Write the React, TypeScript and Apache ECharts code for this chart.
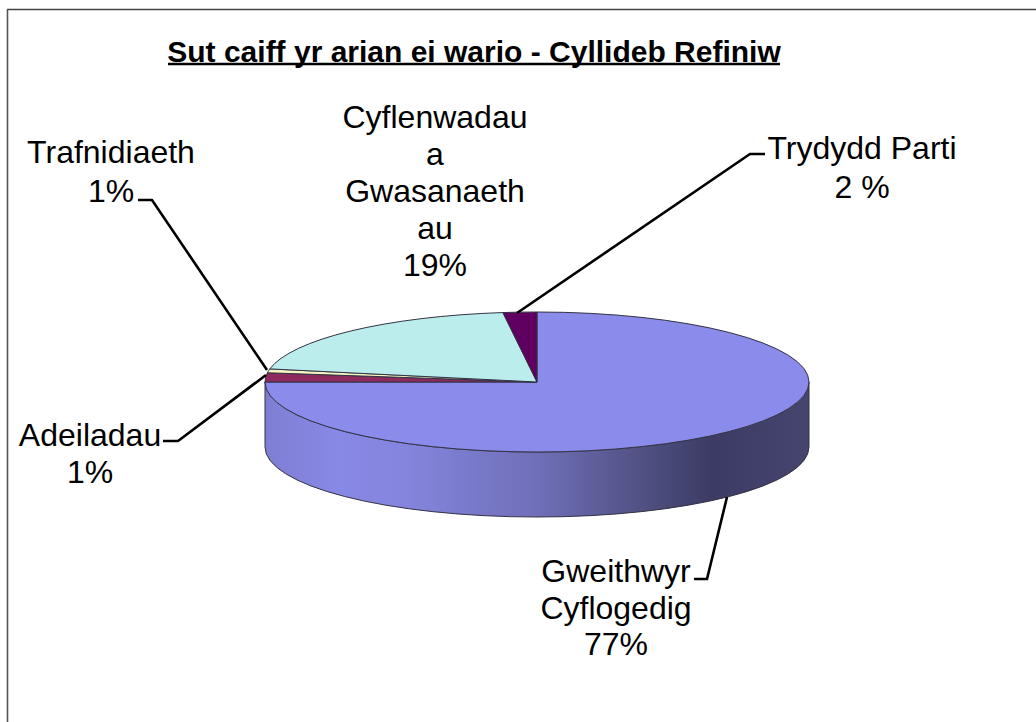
import React, { useEffect, useRef } from "react";
import * as echarts from "echarts";

const chartTitle = "Sut caiff yr arian ei wario - Cyllideb Refiniw";
const sliceNames = ["Gweithwyr Cyflogedig", "Adeiladau", "Trafnidiaeth", "Cyflenwadau a Gwasanaethau", "Trydydd Parti"];
const sliceValues = [75, 2.1, 0.9, 20, 2];
const sliceColors = ["#8B8BEB", "#8E2A5E", "#F5F3C0", "#BAEDEC", "#5F0060"];
const labelTexts = [
  "Gweithwyr\nCyflogedig\n77%",
  "Adeiladau\n1%",
  "Trafnidiaeth\n1%",
  "Cyflenwadau\na\nGwasanaeth\nau\n19%",
  "Trydydd Parti\n2 %",
];

const CX = 537, CY = 382, RX = 272, RY = 70, DEPTH = 65;
const total = sliceValues.reduce((a, b) => a + b, 0);
const pt = (deg: number, dy = 0) => {
  const r = (deg * Math.PI) / 180;
  return [CX + RX * Math.sin(r), CY - RY * Math.cos(r) + dy];
};

function renderSlice(params: any, api: any) {
  const i = params.dataIndex;
  let before = 0;
  for (let k = 0; k < i; k++) before += sliceValues[k];
  const a0 = (before / total) * 360;
  const a1 = a0 + (api.value(0) / total) * 360;
  const children: any[] = [];
  const s0 = Math.max(a0, 90), s1 = Math.min(a1, 270);
  if (s1 > s0) {
    const [x0, y0] = pt(s0), [x1, y1] = pt(s1);
    children.push({
      type: "path",
      shape: {
        pathData: `M${x0} ${y0}A${RX} ${RY} 0 0 1 ${x1} ${y1}L${x1} ${y1 + DEPTH}A${RX} ${RY} 0 0 0 ${x0} ${y0 + DEPTH}Z`,
      },
      style: {
        fill: new echarts.graphic.LinearGradient(0, 0, 1, 0, [
          { offset: 0, color: "#7E7ED2" },
          { offset: 0.13, color: "#8888E6" },
          { offset: 0.25, color: "#8585DE" },
          { offset: 0.5, color: "#6F6FB9" },
          { offset: 0.7, color: "#505081" },
          { offset: 0.82, color: "#3B3B65" },
          { offset: 1, color: "#454570" },
        ]),
        stroke: "#333344",
        lineWidth: 1,
      },
    });
  }
  const [sx, sy] = pt(a0), [ex, ey] = pt(a1);
  const large = a1 - a0 > 180 ? 1 : 0;
  children.push({
    type: "path",
    shape: { pathData: `M${CX} ${CY}L${sx} ${sy}A${RX} ${RY} 0 ${large} 1 ${ex} ${ey}Z` },
    style: { fill: api.visual("color"), stroke: "#333344", lineWidth: 1 },
  });
  return { type: "group", children };
}

const FONT = '"Liberation Sans", Arial, sans-serif';
const label = (text: string, x: number, y: number, lineHeight = 37) => ({
  type: "text",
  x,
  y,
  style: { text, fontFamily: FONT, fontSize: 32, lineHeight, fill: "#000", textAlign: "center", textVerticalAlign: "top" },
});
const leader = (points: number[][]) => ({
  type: "polyline",
  shape: { points },
  style: { stroke: "#000", lineWidth: 2.6, fill: "none" },
  z: 20,
});

export default function App() {
  const ref = useRef<HTMLDivElement>(null);
  useEffect(() => {
    const chart = echarts.init(ref.current!, null, { renderer: "svg" });
    chart.setOption({
      animation: false,
      backgroundColor: "#fff",
      series: [
        {
          type: "custom",
          coordinateSystem: "none",
          renderItem: renderSlice,
          data: sliceValues.map((value, i) => ({
            name: sliceNames[i],
            value,
            itemStyle: { color: sliceColors[i] },
          })),
        },
      ],
      graphic: {
        elements: [
          { type: "line", shape: { x1: 7, y1: 9.5, x2: 1036, y2: 9.5 }, style: { stroke: "#444", lineWidth: 1.6 } },
          { type: "line", shape: { x1: 7.5, y1: 9, x2: 7.5, y2: 722 }, style: { stroke: "#555", lineWidth: 1.6 } },
          {
            type: "text",
            x: 474,
            y: 36,
            style: { text: chartTitle, fontFamily: FONT, fontSize: 30, fontWeight: "bold", fill: "#000", textAlign: "center", textVerticalAlign: "top" },
          },
          { type: "line", shape: { x1: 168, y1: 64, x2: 780, y2: 64 }, style: { stroke: "#000", lineWidth: 2.6 } },
          label(labelTexts[0], 616, 553, 36.5),
          label(labelTexts[1], 90, 416),
          label(labelTexts[2], 111, 132, 39),
          label(labelTexts[3], 435, 98),
          label(labelTexts[4], 862, 128, 39),
          leader([[694, 579], [707, 579], [727, 497]]),
          leader([[163, 441], [178, 441], [266, 375]]),
          leader([[138, 200], [152, 200], [267, 370]]),
          leader([[765, 154], [750, 154], [517, 313]]),
        ],
      },
    });
    return () => chart.dispose();
  }, []);
  return <div ref={ref} style={{ position: "fixed", left: 0, top: 0, width: 1036, height: 722 }} />;
}
